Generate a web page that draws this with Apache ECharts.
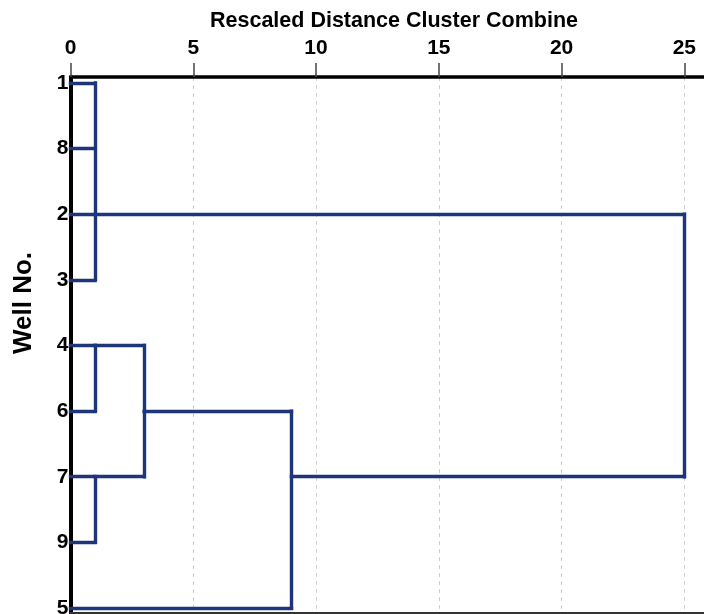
<!DOCTYPE html>
<html>
<head>
<meta charset="utf-8">
<script src="https://cdn.jsdelivr.net/npm/echarts@6/dist/echarts.min.js"></script>
<style>
html,body{margin:0;padding:0;background:#fff;}
#chart{width:704px;height:614px;}
</style>
</head>
<body>
<div id="chart"></div>
<script>
// Leaves (well numbers), top to bottom
const wells = ['1','8','2','3','4','6','7','9','5'];
// Merges: rows joined, rescaled distance, row where merged branch continues
const mergeRows = [[0,1,2,3],[4,5],[6,7],[4,6],[5,8],[2,6]];
const mergeDist = [1, 1, 1, 3, 9, 25];
const mergeOut  = [2, 4, 6, 5, 6, 2];
const xTicks = [0,5,10,15,20,25];
const rowIdx = [0,1,2,3,4,5,6,7,8];

// Build dendrogram segments from merge data
const segs = [];
const start = wells.map(() => 0);
mergeRows.forEach((rows, i) => {
  const d = mergeDist[i];
  rows.forEach(r => segs.push({coords: [[start[r], r], [d, r]]}));
  segs.push({coords: [[d, Math.min(...rows)], [d, Math.max(...rows)]]});
  start[mergeOut[i]] = d;
});

const FONT = 'Liberation Sans, Arial, sans-serif';
const chart = echarts.init(document.getElementById('chart'), null, {renderer: 'canvas'});
chart.setOption({
  animation: false,
  backgroundColor: '#fff',
  grid: {left: 70.5, right: 0, top: 77, bottom: 1, containLabel: false, outerBoundsMode: 'none'},
  graphic: [
    {type: 'text', x: 394, y: 21, style: {text: 'Rescaled Distance Cluster Combine', font: 'bold 21.5px ' + FONT, fill: '#000', textAlign: 'center', textVerticalAlign: 'middle'}},
    {type: 'text', x: 24, y: 303, rotation: Math.PI / 2, style: {text: 'Well No.', font: 'bold 26px ' + FONT, fill: '#000', textAlign: 'center', textVerticalAlign: 'middle'}}
  ],
  xAxis: [{
    type: 'value', position: 'top', min: 0, max: 25.8, interval: 5,
    axisLine: {show: true, onZero: false, lineStyle: {color: '#000', width: 3.5}},
    axisTick: {show: true, length: 14, customValues: xTicks, lineStyle: {color: '#444', width: 1.5}},
    axisLabel: {customValues: xTicks, margin: 18, color: '#000', fontFamily: FONT, fontWeight: 'bold', fontSize: 21},
    splitLine: {show: true, lineStyle: {color: '#cfcfcf', type: [4, 4], width: 1}}
  }, {
    type: 'value', position: 'bottom', min: 0, max: 25.8,
    axisLine: {show: true, onZero: false, lineStyle: {color: '#333', width: 2}},
    axisTick: {show: false}, axisLabel: {show: false}, splitLine: {show: false}
  }],
  yAxis: {
    type: 'value', inverse: true, min: -0.0914, max: 8.0762,
    axisLine: {show: true, onZero: false, lineStyle: {color: '#000', width: 4}},
    axisTick: {show: false},
    axisLabel: {customValues: rowIdx, margin: 2, color: '#000', fontFamily: FONT, fontWeight: 'bold', fontSize: 21,
      hideOverlap: false, showMinLabel: true, showMaxLabel: true,
      formatter: v => wells[Math.round(v)] || ''},
    splitLine: {show: false}
  },
  series: [{
    type: 'lines', coordinateSystem: 'cartesian2d', xAxisIndex: 0, yAxisIndex: 0,
    polyline: false, silent: true,
    lineStyle: {color: '#1d3579', width: 3.4, opacity: 1, cap: 'square', curveness: 0},
    data: segs, z: 5
  }]
});
</script>
</body>
</html>
